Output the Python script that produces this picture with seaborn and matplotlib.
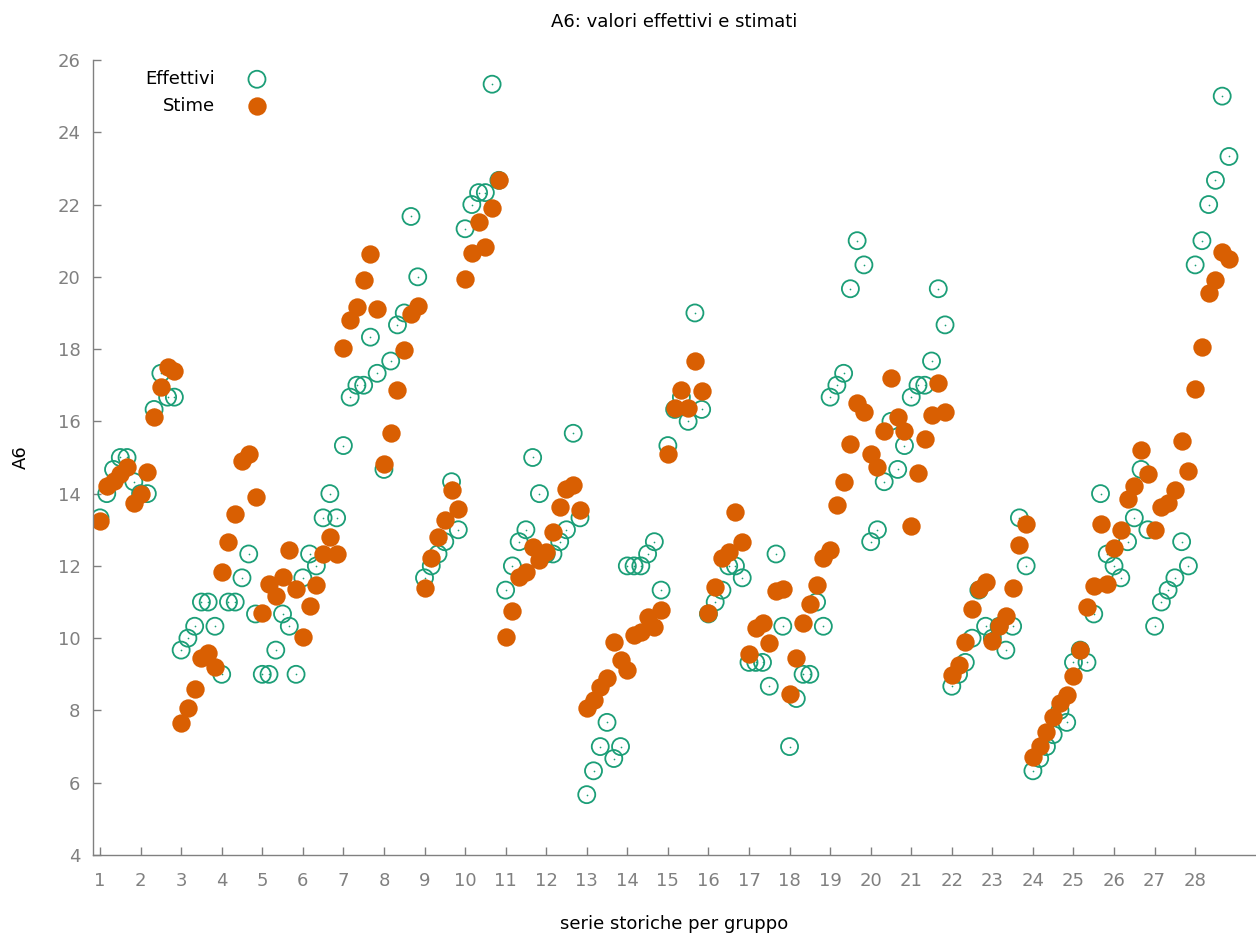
import numpy as np
import pandas as pd
import matplotlib
matplotlib.use("Agg")
import matplotlib.pyplot as plt
import seaborn as sns

# gruppi e osservazioni per gruppo
gruppi = list(range(1, 29))
n_periodi = 6

# valori effettivi (6 per gruppo)
effettivi = [
    13.33, 14.0, 14.67, 15.0, 15.0, 14.33,
    14.0, 14.0, 16.33, 17.33, 16.67, 16.67,
    9.67, 10.0, 10.33, 11.0, 11.0, 10.33,
    9.0, 11.0, 11.0, 11.67, 12.33, 10.67,
    9.0, 9.0, 9.67, 10.67, 10.33, 9.0,
    11.67, 12.33, 12.0, 13.33, 14.0, 13.33,
    15.33, 16.67, 17.0, 17.0, 18.33, 17.33,
    14.67, 17.67, 18.67, 19.0, 21.67, 20.0,
    11.67, 12.0, 12.33, 12.67, 14.33, 13.0,
    21.33, 22.0, 22.33, 22.33, 25.33, 22.67,
    11.33, 12.0, 12.67, 13.0, 15.0, 14.0,
    12.33, 12.33, 12.67, 13.0, 15.67, 13.33,
    5.67, 6.33, 7.0, 7.67, 6.67, 7.0,
    12.0, 12.0, 12.0, 12.33, 12.67, 11.33,
    15.33, 16.33, 16.67, 16.0, 19.0, 16.33,
    10.67, 11.0, 11.33, 12.0, 12.0, 11.67,
    9.33, 9.33, 9.33, 8.67, 12.33, 10.33,
    7.0, 8.33, 9.0, 9.0, 11.0, 10.33,
    16.67, 17.0, 17.33, 19.67, 21.0, 20.33,
    12.67, 13.0, 14.33, 16.0, 14.67, 15.33,
    16.67, 17.0, 17.0, 17.67, 19.67, 18.67,
    8.67, 9.0, 9.33, 10.0, 11.33, 10.33,
    10.0, 10.33, 9.67, 10.33, 13.33, 12.0,
    6.33, 6.67, 7.0, 7.33, 8.0, 7.67,
    9.33, 9.67, 9.33, 10.67, 14.0, 12.33,
    12.0, 11.67, 12.67, 13.33, 14.67, 13.0,
    10.33, 11.0, 11.33, 11.67, 12.67, 12.0,
    20.33, 21.0, 22.0, 22.67, 25.0, 23.33,
]

# valori stimati
stime = [
    13.25, 14.2, 14.35, 14.55, 14.75, 13.75,
    14.0, 14.6, 16.12, 16.95, 17.5, 17.4,
    7.64, 8.08, 8.59, 9.44, 9.58, 9.21,
    11.84, 12.67, 13.45, 14.91, 15.11, 13.92,
    10.71, 11.49, 11.17, 11.7, 12.44, 11.37,
    10.04, 10.89, 11.47, 12.33, 12.8, 12.33,
    18.04, 18.8, 19.17, 19.91, 20.64, 19.12,
    14.83, 15.68, 16.87, 17.97, 18.96, 19.2,
    11.4, 12.21, 12.8, 13.27, 14.1, 13.57,
    19.93, 20.66, 21.52, 20.82, 21.9, 22.69,
    10.02, 10.75, 11.68, 11.84, 12.52, 12.15,
    12.39, 12.93, 13.64, 14.13, 14.24, 13.54,
    8.08, 8.29, 8.65, 8.91, 9.9, 9.39,
    9.13, 10.09, 10.18, 10.59, 10.31, 10.78,
    15.1, 16.36, 16.87, 16.38, 17.68, 16.84,
    10.7, 11.41, 12.21, 12.39, 13.48, 12.67,
    9.56, 10.28, 10.43, 9.86, 11.3, 11.35,
    8.45, 9.44, 10.43, 10.94, 11.47, 12.23,
    12.44, 13.68, 14.33, 15.37, 16.51, 16.27,
    15.11, 14.74, 15.74, 17.21, 16.11, 15.74,
    13.11, 14.56, 15.52, 16.17, 17.05, 16.27,
    8.98, 9.26, 9.9, 10.8, 11.35, 11.56,
    9.93, 10.34, 10.62, 11.38, 12.58, 13.17,
    6.7, 7.01, 7.41, 7.81, 8.2, 8.44,
    8.95, 9.67, 10.85, 11.45, 13.15, 11.5,
    12.5, 13.0, 13.85, 14.2, 15.2, 14.55,
    13.0, 13.62, 13.73, 14.1, 15.47, 14.62,
    16.9, 18.05, 19.54, 19.9, 20.7, 20.5,
]

VERDE = "#1b9e77"
ARANCIO = "#d95f02"
GRIGIO = "#808080"

# posizione: gruppo + periodo/6
pos = np.repeat(gruppi, n_periodi) + np.tile(np.arange(n_periodi), len(gruppi)) / n_periodi
df = pd.DataFrame({"x": pos, "Effettivi": effettivi, "Stime": stime})

sns.set_style("ticks")
plt.rcParams["font.family"] = ["DejaVu Sans"]
plt.rcParams["text.color"] = "black"

fig = plt.figure(figsize=(12.56, 9.36), dpi=100)
ax = fig.add_axes([93 / 1256, 81 / 936, (1256 - 93) / 1256, 795 / 936])

sns.scatterplot(data=df, x="x", y="Effettivi", ax=ax, marker="o", s=150,
                facecolor="none", edgecolor=VERDE, linewidth=1.3, label="Effettivi")
sns.scatterplot(data=df, x="x", y="Effettivi", ax=ax, marker="o", s=1.5,
                color=VERDE, linewidth=0, legend=False)
sns.scatterplot(data=df, x="x", y="Stime", ax=ax, marker="o", s=175,
                color=ARANCIO, linewidth=0, label="Stime")

ax.set_xlim(0.827, 29.5)
ax.set_ylim(4, 26)
ax.set_xticks(gruppi)
ax.set_yticks(range(4, 27, 2))

for s in ["top", "right"]:
    ax.spines[s].set_visible(False)
for s in ["left", "bottom"]:
    ax.spines[s].set_color(GRIGIO)
    ax.spines[s].set_linewidth(1)

ax.tick_params(axis="both", direction="in", length=6, width=1, color=GRIGIO,
               labelcolor=GRIGIO, labelsize=13)
ax.tick_params(axis="x", pad=12)
ax.tick_params(axis="y", pad=9)

ax.set_xlabel("serie storiche per gruppo", fontsize=13, color="black", labelpad=18)
ax.set_ylabel("A6", fontsize=13, color="black", labelpad=20)
ax.set_title("A6: valori effettivi e stimati", fontsize=13, color="black", pad=24)

ax.legend(loc="upper right", bbox_to_anchor=(266 / 1256, 1 - 70 / 936),
          bbox_transform=fig.transFigure, frameon=False, markerfirst=False,
          fontsize=13, handlelength=1.0, handletextpad=1.8, labelspacing=0.5,
          borderpad=0, borderaxespad=0, scatterpoints=1, labelcolor="black")

fig.savefig("out.png", dpi=100)
